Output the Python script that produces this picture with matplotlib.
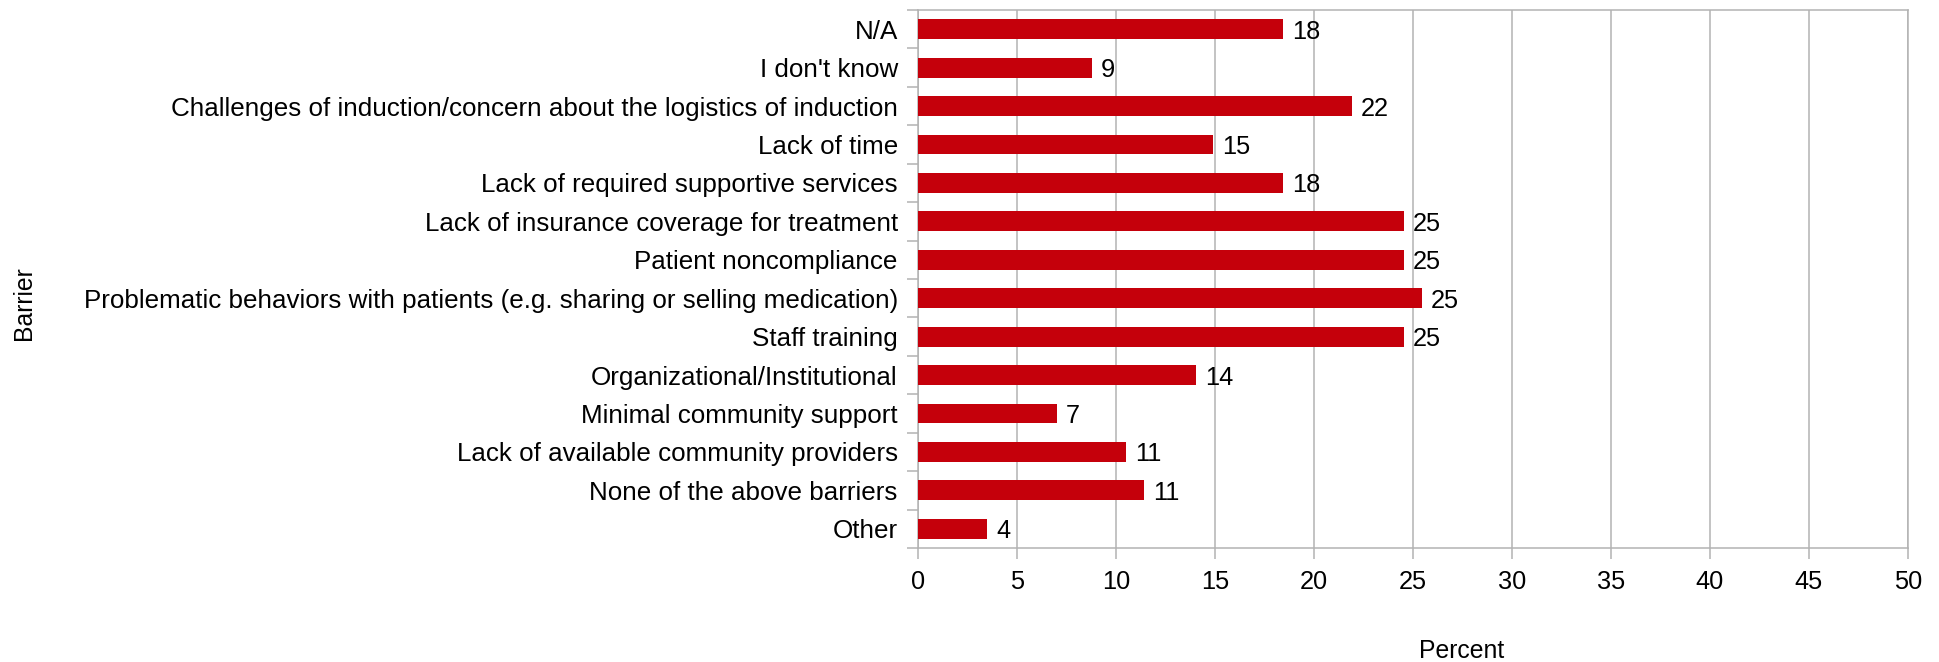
import numpy as np
import matplotlib
matplotlib.use("Agg")
import matplotlib.pyplot as plt
from matplotlib.ticker import FixedLocator

plt.rcParams['font.family'] = ['Liberation Sans', 'DejaVu Sans']

# Barriers, top to bottom as shown
barriers = [
    "N/A",
    "I don't know",
    "Challenges of induction/concern about the logistics of induction",
    "Lack of time",
    "Lack of required supportive services",
    "Lack of insurance coverage for treatment",
    "Patient noncompliance",
    "Problematic behaviors with patients (e.g. sharing or selling medication)",
    "Staff training",
    "Organizational/Institutional",
    "Minimal community support",
    "Lack of available community providers",
    "None of the above barriers",
    "Other",
]
# percent of respondents
percent = [18.42, 8.77, 21.93, 14.91, 18.42, 24.56, 24.56, 25.44, 24.56,
           14.04, 7.02, 10.53, 11.40, 3.51]
xticks = [0, 5, 10, 15, 20, 25, 30, 35, 40, 45, 50]

bar_color = '#c5000b'
grid_color = '#b3b3b3'

fig = plt.figure(figsize=(19.4, 6.62), dpi=100)
ax = fig.add_axes([918 / 1940, 1 - 548 / 662, 990 / 1940, 538 / 662])

y = np.arange(len(barriers))
ax.barh(y, percent, height=0.52, color=bar_color, zorder=3)

for yi, v in zip(y, percent):
    ax.text(v + 0.45, yi, f"{v:.0f}", va='center_baseline', ha='left',
            fontsize=18.3, color='black', zorder=4)

ax.set_xlim(0, 50)
ax.set_ylim(len(barriers) - 0.5, -0.5)
ax.set_xticks(xticks)
ax.set_yticks(y)
ax.set_yticklabels(barriers)
ax.yaxis.set_minor_locator(FixedLocator(np.arange(-0.5, len(barriers), 1.0)))

ax.tick_params(axis='y', which='major', length=0, pad=14.5, labelsize=18.7)
ax.tick_params(axis='y', which='minor', length=8, width=1.1, color=grid_color)
ax.tick_params(axis='x', which='major', length=8, width=1.1, color=grid_color,
               pad=7.5, labelsize=18.3)

ax.grid(axis='x', color=grid_color, linewidth=1.1, zorder=0)
for s in ax.spines.values():
    s.set_color(grid_color)
    s.set_linewidth(1.1)

fig.text(1462 / 1940, 4 / 662, "Percent", ha='center', va='baseline', fontsize=17.8)
fig.text(24 / 1940, 1 - 303 / 662, "Barrier", ha='center', va='center',
         rotation=90, fontsize=17.8)

fig.savefig("out.png", dpi=100)
